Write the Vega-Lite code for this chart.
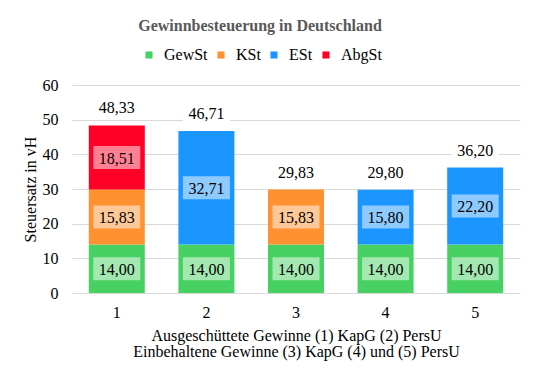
{
  "$schema": "https://vega.github.io/schema/vega-lite/v6.json",
  "width": 448,
  "height": 208,
  "autosize": {"type": "none"},
  "padding": {"left": 72, "top": 85, "right": 18, "bottom": 87},
  "background": "white",
  "config": {
    "view": {"stroke": null},
    "axisX": {"labelFontSize": 16, "labelColor": "#000000", "labelAngle": 0, "labelPadding": 11, "ticks": false, "domain": false, "grid": false, "titleFontSize": 16, "titleFontWeight": "normal", "titleColor": "#000000", "titlePadding": 7, "titleLineHeight": 16, "labelFont": "Liberation Serif", "titleFont": "Liberation Serif"},
    "axisY": {"labelFontSize": 16, "labelColor": "#000000", "ticks": false, "domain": false, "gridColor": "#d9d9d9", "gridWidth": 1, "labelPadding": 14, "titleFontSize": 16, "titleFontWeight": "normal", "titleColor": "#000000", "titlePadding": 4, "labelFont": "Liberation Serif", "titleFont": "Liberation Serif", "values": [0, 10, 20, 30, 40, 50, 60]},
    "legend": {"orient": "none", "legendX": 69, "legendY": -38, "direction": "horizontal", "symbolType": "square", "symbolSize": 50, "symbolStrokeWidth": 0, "labelFontSize": 16, "labelFont": "Liberation Serif", "labelColor": "#000000", "labelOffset": 7, "columnPadding": 5, "padding": 0, "title": null}
  },
  "title": {"text": "Gewinnbesteuerung in Deutschland", "font": "Liberation Serif", "fontSize": 16, "fontWeight": "bold", "color": "#595959", "frame": "group", "anchor": "middle", "dx": -36, "offset": 13},
  "datasets": {
    "segments": [
      {"cat": "1", "tax": "GewSt", "value": 14.00},
      {"cat": "1", "tax": "KSt", "value": 15.83},
      {"cat": "1", "tax": "AbgSt", "value": 18.51},
      {"cat": "2", "tax": "GewSt", "value": 14.00},
      {"cat": "2", "tax": "ESt", "value": 32.71},
      {"cat": "3", "tax": "GewSt", "value": 14.00},
      {"cat": "3", "tax": "KSt", "value": 15.83},
      {"cat": "4", "tax": "GewSt", "value": 14.00},
      {"cat": "4", "tax": "ESt", "value": 15.80},
      {"cat": "5", "tax": "GewSt", "value": 14.00},
      {"cat": "5", "tax": "ESt", "value": 22.20}
    ],
    "totals": [
      {"cat": "1", "total": 48.33},
      {"cat": "2", "total": 46.71},
      {"cat": "3", "total": 29.83},
      {"cat": "4", "total": 29.80},
      {"cat": "5", "total": 36.20}
    ]
  },
  "encoding": {
    "x": {"field": "cat", "type": "nominal", "scale": {"paddingInner": 0.375, "paddingOuter": 0.1875}, "axis": {"title": ["Ausgeschüttete Gewinne (1) KapG (2) PersU", "Einbehaltene Gewinne (3) KapG (4) und (5) PersU"]}}
  },
  "layer": [
    {
      "data": {"name": "segments"},
      "transform": [
        {"calculate": "indexof(['GewSt','KSt','ESt','AbgSt'], datum.tax)", "as": "k"},
        {"stack": "value", "groupby": ["cat"], "sort": [{"field": "k", "order": "ascending"}], "as": ["y0", "y1"]},
        {"calculate": "(datum.y0 + datum.y1) / 2", "as": "ymid"},
        {"calculate": "replace(format(datum.value, '.2f'), '.', ',')", "as": "label"}
      ],
      "layer": [
        {
          "mark": {"type": "bar"},
          "encoding": {
            "y": {"field": "y0", "type": "quantitative", "scale": {"domain": [0, 60]}, "title": "Steuersatz in vH"},
            "y2": {"field": "y1"},
            "color": {"field": "tax", "type": "nominal", "scale": {"domain": ["GewSt", "KSt", "ESt", "AbgSt"], "range": ["#47D162", "#FF9131", "#1B95FF", "#FF0026"]}}
          }
        },
        {
          "mark": {"type": "point", "shape": "M-1,-0.49H1V0.49H-1Z", "size": 2209, "filled": true, "fill": "white", "opacity": 0.5, "strokeWidth": 0},
          "encoding": {
            "y": {"field": "ymid", "type": "quantitative", "scale": {"domain": [0, 60]}, "title": "Steuersatz in vH"}
          }
        },
        {
          "mark": {"type": "text", "fontSize": 16, "font": "Liberation Serif", "color": "#000000", "baseline": "middle", "dy": 1},
          "encoding": {
            "y": {"field": "ymid", "type": "quantitative", "scale": {"domain": [0, 60]}, "title": "Steuersatz in vH"},
            "text": {"field": "label", "type": "nominal"}
          }
        }
      ]
    },
    {
      "data": {"name": "totals"},
      "transform": [
        {"calculate": "replace(format(datum.total, '.2f'), '.', ',')", "as": "label"}
      ],
      "layer": [
        {
          "mark": {"type": "point", "shape": "M-1,-0.49H1V0.49H-1Z", "size": 2209, "filled": true, "fill": "white", "opacity": 1, "strokeWidth": 0, "yOffset": -18},
          "encoding": {
            "y": {"field": "total", "type": "quantitative", "scale": {"domain": [0, 60]}, "title": "Steuersatz in vH"}
          }
        },
        {
          "mark": {"type": "text", "fontSize": 16, "font": "Liberation Serif", "color": "#000000", "baseline": "middle", "dy": 1, "yOffset": -18},
          "encoding": {
            "y": {"field": "total", "type": "quantitative", "scale": {"domain": [0, 60]}, "title": "Steuersatz in vH"},
            "text": {"field": "label", "type": "nominal"}
          }
        }
      ]
    }
  ]
}
